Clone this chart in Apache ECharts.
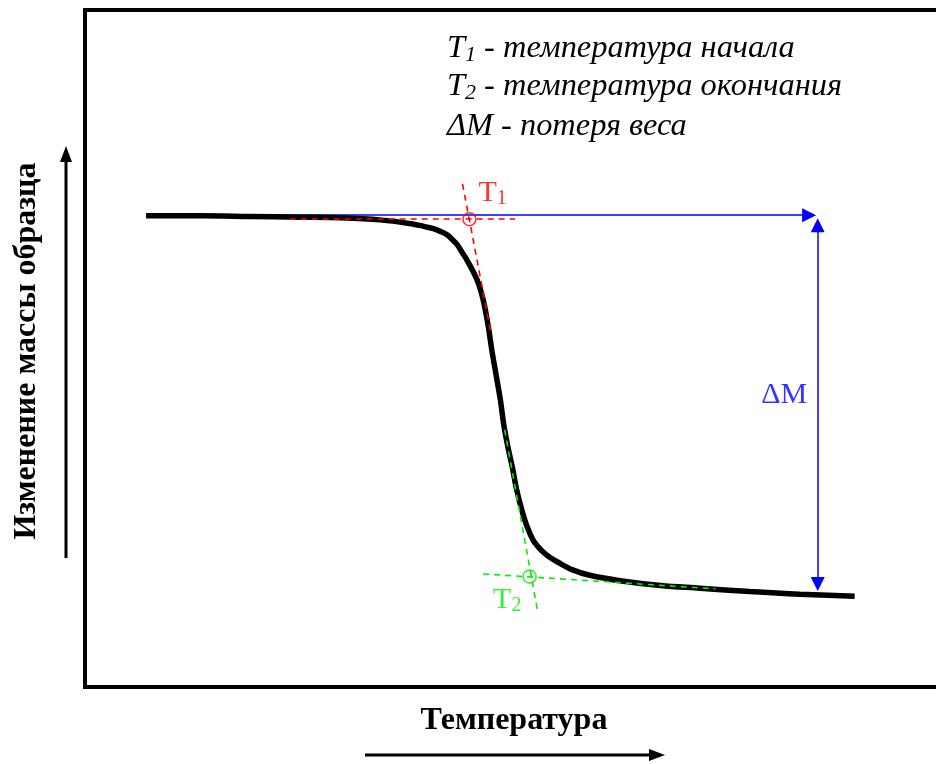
<!DOCTYPE html>
<html>
<head>
<meta charset="utf-8">
<script src="https://cdn.jsdelivr.net/npm/echarts@6/dist/echarts.min.js"></script>
<style>
html,body{margin:0;padding:0;background:#fff;}
#chart{width:936px;height:764px;}
</style>
</head>
<body>
<div id="chart"></div>
<script>
// Schematic TGA curve (arbitrary units: temperature 0-100, mass 0-100)
var tempX = [7.1, 13.4, 19.2, 25.0, 29.7, 34.3, 38.1, 39.5, 40.5, 41.3, 42.1, 42.7, 43.3, 43.8, 44.4, 45.6, 46.3, 46.9, 47.3, 47.8, 48.3, 48.7, 49.2, 49.7, 50.2, 50.8, 51.4, 52.1, 52.7, 53.3, 54.0, 54.9, 56.7, 58.7, 62.2, 66.9, 71.5, 77.3, 83.1, 89.5];
var massY = [69.6, 69.6, 69.5, 69.4, 69.3, 69.0, 68.4, 68.0, 67.7, 67.3, 66.8, 66.1, 65.3, 64.3, 63.1, 60.1, 57.2, 53.2, 49.8, 46.1, 42.4, 38.7, 35.3, 32.4, 29.1, 26.1, 23.7, 21.7, 20.7, 19.9, 19.2, 18.5, 17.3, 16.5, 15.7, 15.0, 14.6, 14.1, 13.7, 13.4];

// Tangent constructions
var onsetBaseline = [[23.8, 69.1], [50.0, 69.1]];
var onsetSlope = [[43.9, 74.3], [47.2, 52.3]];
var endSlope = [[48.8, 38.0], [52.6, 11.4]];
var endBaseline = [[46.3, 16.7], [73.3, 14.5]];
var pointT1 = [44.7, 69.1];
var pointT2 = [51.7, 16.3];
var startLevel = [[7.1, 69.7], [84.2, 69.7]];
var deltaM = [[85.2, 68.2], [85.2, 15.2]];

// Labels
var labelT1 = [47.4, 73.0];
var labelT2 = [49.1, 12.9];
var labelDM = [81.3, 43.1];
var legendLines = [
  ['T', '1', ' - температура начала'],
  ['T', '2', ' - температура окончания'],
  ['ΔM', '', ' - потеря веса']
];
var xTitle = 'Температура';
var yTitle = 'Изменение массы образца';

var curve = tempX.map(function (x, i) { return [x, massY[i]]; });

var chart = echarts.init(document.getElementById('chart'), null, {renderer: 'canvas'});
var serif = '"Liberation Serif", "DejaVu Serif", serif';
var RED = '#ff0000', GREEN = '#00ee00', BLUE = '#0000ff';

function subLabel(color) {
  return {
    show: true,
    position: 'inside',
    formatter: function (p) { return p.data.t; },
    rich: {
      a: {fontFamily: serif, fontSize: 30, color: color},
      b: {fontFamily: serif, fontSize: 20, color: color, verticalAlign: 'bottom', padding: [12, 0, 0, 0]}
    }
  };
}

var legendGraphics = legendLines.map(function (l, i) {
  var txt = l[1] ? '{m|' + l[0] + '}{s|' + l[1] + '}{m|' + l[2] + '}' : '{m|' + l[0] + l[2] + '}';
  return {
    type: 'text',
    x: 447,
    y: [48, 86, 126][i],
    style: {
      text: txt,
      verticalAlign: 'middle',
      align: 'left',
      rich: {
        m: {fontFamily: serif, fontStyle: 'italic', fontSize: 32.4, fill: '#000', lineHeight: 36},
        s: {fontFamily: serif, fontStyle: 'italic', fontSize: 22, fill: '#000', lineHeight: 36, verticalAlign: 'bottom', padding: [14, 0, 0, 0]}
      }
    }
  };
});

var option = {
  animation: false,
  backgroundColor: '#fff',
  grid: {left: 85, top: 10, width: 860, height: 677, outerBoundsMode: 'none', containLabel: false,
         show: true, borderColor: '#000', borderWidth: 4, backgroundColor: 'transparent'},
  xAxis: {type: 'value', min: 0, max: 100, show: false},
  yAxis: {type: 'value', min: 0, max: 100, show: false},
  graphic: legendGraphics.concat([
    {type: 'text', x: 27, y: 351, rotation: Math.PI / 2,
     style: {text: yTitle, font: 'bold 32px "Liberation Serif", serif', fill: '#000', align: 'center', verticalAlign: 'middle'}},
    {type: 'text', x: 514, y: 721,
     style: {text: xTitle, font: 'bold 32px "Liberation Serif", serif', fill: '#000', align: 'center', verticalAlign: 'middle'}},
    {type: 'line', shape: {x1: 66, y1: 558, x2: 66, y2: 158}, style: {stroke: '#000', lineWidth: 3}},
    {type: 'polygon', shape: {points: [[66, 146], [60, 162], [72, 162]]}, style: {fill: '#000'}},
    {type: 'line', shape: {x1: 365, y1: 755, x2: 652, y2: 755}, style: {stroke: '#000', lineWidth: 3}},
    {type: 'polygon', shape: {points: [[665, 755], [649, 749], [649, 761]]}, style: {fill: '#000'}}
  ]),
  series: [
    {type: 'lines', coordinateSystem: 'cartesian2d', z: 1, silent: true,
     symbol: ['none', 'triangle'], symbolSize: 14,
     lineStyle: {color: BLUE, width: 1.5, opacity: 1},
     data: [{coords: startLevel}]},
    {type: 'lines', coordinateSystem: 'cartesian2d', z: 1, silent: true,
     symbol: ['triangle', 'triangle'], symbolSize: 14,
     lineStyle: {color: BLUE, width: 1.5, opacity: 1},
     data: [{coords: deltaM}]},
    {type: 'line', data: curve, z: 2, showSymbol: false, smooth: 0.35,
     lineStyle: {color: '#000', width: 5.5}},
    {type: 'lines', coordinateSystem: 'cartesian2d', z: 3, silent: true,
     lineStyle: {color: RED, width: 1.6, type: [6, 5], opacity: 1},
     data: [{coords: onsetBaseline}, {coords: onsetSlope}]},
    {type: 'lines', coordinateSystem: 'cartesian2d', z: 3, silent: true,
     lineStyle: {color: GREEN, width: 1.6, type: [6, 5], opacity: 1},
     data: [{coords: endSlope}, {coords: endBaseline}]},
    {type: 'scatter', z: 4, symbol: 'circle', symbolSize: 13,
     itemStyle: {color: 'transparent', borderColor: RED, borderWidth: 1.6},
     data: [pointT1]},
    {type: 'scatter', z: 4, symbol: 'circle', symbolSize: 13,
     itemStyle: {color: 'transparent', borderColor: GREEN, borderWidth: 1.6},
     data: [pointT2]},
    {type: 'scatter', z: 5, symbolSize: 0, label: subLabel(RED),
     data: [{value: labelT1, t: '{a|T}{b|1}'}]},
    {type: 'scatter', z: 5, symbolSize: 0, label: subLabel(GREEN),
     data: [{value: labelT2, t: '{a|T}{b|2}'}]},
    {type: 'scatter', z: 5, symbolSize: 0,
     label: {show: true, position: 'inside', formatter: 'ΔM', fontFamily: serif, fontSize: 30, color: BLUE},
     data: [labelDM]}
  ]
};
chart.setOption(option);
</script>
</body>
</html>
